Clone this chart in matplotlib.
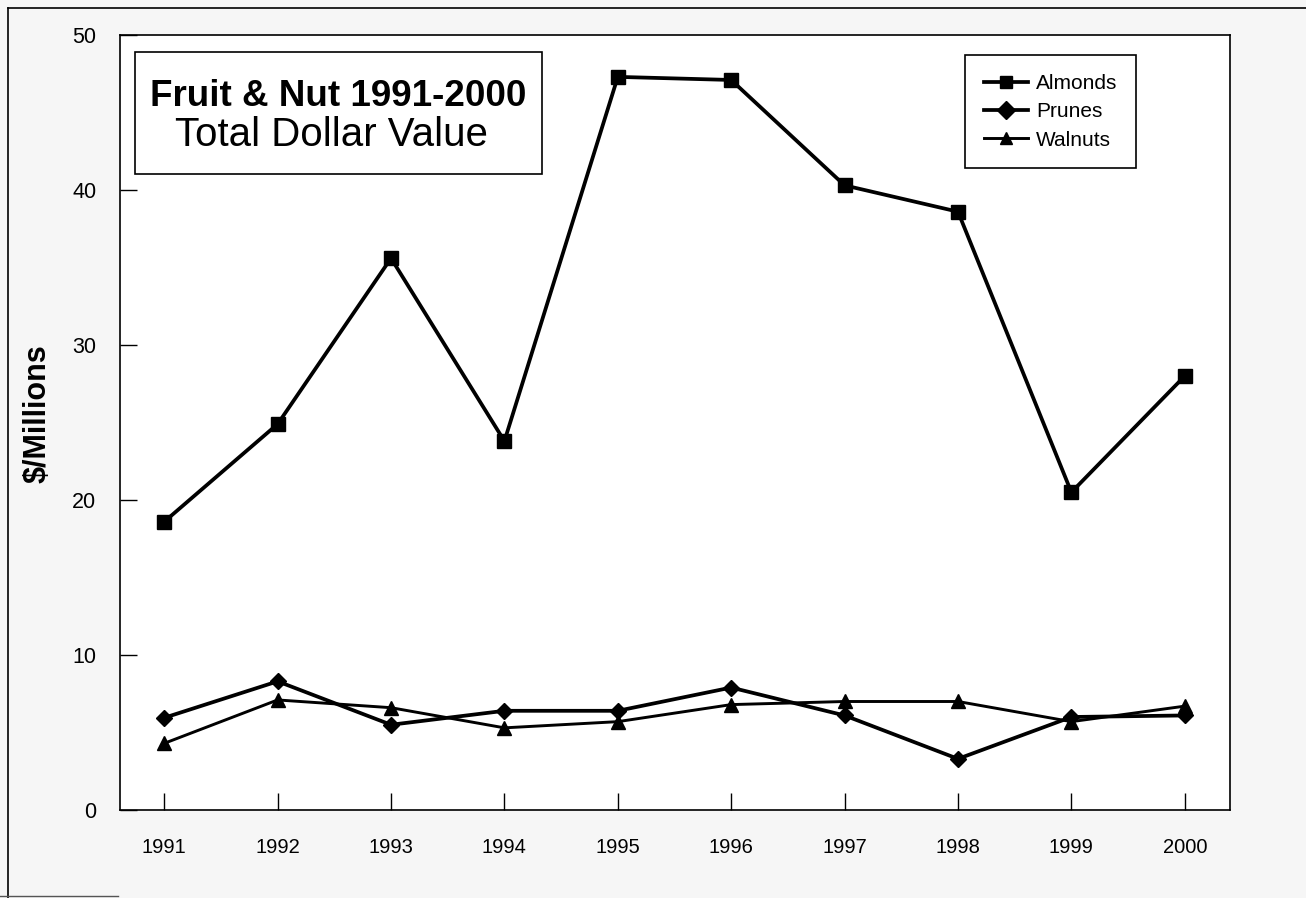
import matplotlib

matplotlib.use("Agg")
import matplotlib.pyplot as plt
from matplotlib.lines import Line2D
from matplotlib.patches import Rectangle

years = [1991, 1992, 1993, 1994, 1995, 1996, 1997, 1998, 1999, 2000]
almonds = [18.6, 24.9, 35.6, 23.8, 47.3, 47.1, 40.3, 38.6, 20.5, 28.0]
prunes = [5.95, 8.3, 5.5, 6.4, 6.4, 7.9, 6.1, 3.3, 6.0, 6.1]
walnuts = [4.3, 7.1, 6.6, 5.3, 5.7, 6.8, 7.0, 7.0, 5.7, 6.7]
y_ticks = [0, 10, 20, 30, 40, 50]

plt.rcParams["font.family"] = ["Liberation Sans", "DejaVu Sans"]

fig = plt.figure(figsize=(13.06, 8.98), dpi=100, facecolor="#f6f6f6")
ax = fig.add_axes([0.0919, 0.098, 0.850, 0.863])
ax.set_facecolor("white")

ax.plot(years, almonds, color="black", linewidth=2.7, marker="s", markersize=10, label="Almonds")
ax.plot(years, prunes, color="black", linewidth=2.7, marker="D", markersize=8, label="Prunes")
ax.plot(years, walnuts, color="black", linewidth=2.1, marker="^", markersize=10, label="Walnuts")

ax.set_xlim(1990.61, 2000.4)
ax.set_ylim(0, 50)
ax.set_xticks(years)
ax.set_xticklabels([str(y) for y in years])
ax.set_yticks(y_ticks)
ax.tick_params(axis="both", direction="in", length=12, width=1, color="black")
ax.tick_params(axis="y", pad=17, labelsize=15.5)
ax.tick_params(axis="x", pad=20, labelsize=14.5)
for side in ["left", "right", "top", "bottom"]:
    ax.spines[side].set_linewidth(1.2)
    ax.spines[side].set_color("black")

ax.set_ylabel("$/Millions", fontsize=22, fontweight="bold")
ax.yaxis.set_label_coords(-0.061, 0.512)

# title box inside the plot area
ax.add_patch(Rectangle((0.0135, 0.8206), 0.3667, 0.1574, transform=ax.transAxes,
                       facecolor="white", edgecolor="black", linewidth=1.2, zorder=4))
ax.text(0.1968, 0.9205, "Fruit & Nut 1991-2000", transform=ax.transAxes,
        ha="center", va="center", fontsize=26.5, fontweight="bold", zorder=5)
ax.text(0.1905, 0.8705, "Total Dollar Value", transform=ax.transAxes,
        ha="center", va="center", fontsize=29, zorder=5)

leg = ax.legend(loc="upper right", bbox_to_anchor=(0.9153, 0.974), fontsize=15,
                frameon=True, fancybox=False, edgecolor="black", handlelength=2.1,
                labelspacing=0.45, borderpad=0.9, handletextpad=0.4, borderaxespad=0)
leg.get_frame().set_linewidth(1.2)
leg.get_frame().set_alpha(1)
for h in leg.legend_handles:
    h.set_markersize(9)

# scanned page frame
fig.add_artist(Line2D([0.006, 0.006], [0.0, 0.991], transform=fig.transFigure, color="black", linewidth=1.2))
fig.add_artist(Line2D([0.006, 1.0], [0.991, 0.991], transform=fig.transFigure, color="black", linewidth=1.2))
fig.add_artist(Line2D([0.0, 0.09], [0.002, 0.002], transform=fig.transFigure, color="#555555", linewidth=1.0))

fig.savefig("out.png", facecolor=fig.get_facecolor())
